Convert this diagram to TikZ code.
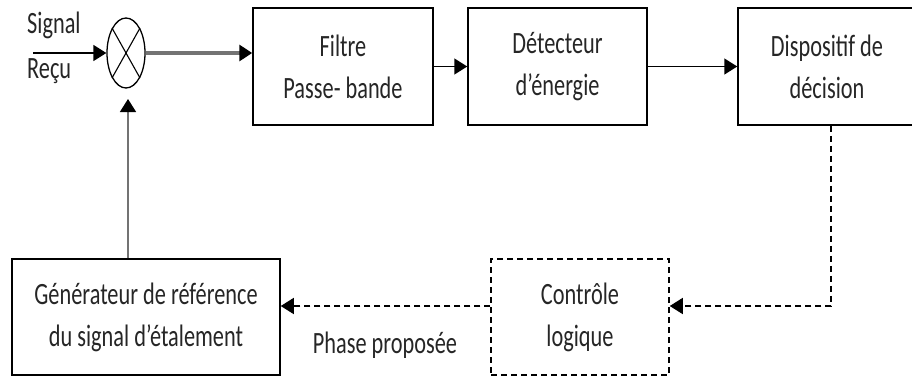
\documentclass[tikz,border=0pt]{standalone}
\usepackage{fontspec}
\setmainfont{Carlito}[FakeStretch=0.72]
\usetikzlibrary{arrows.meta,shapes.geometric}
\begin{document}
\begin{tikzpicture}[x=1pt,y=-1pt,
  txt/.style={font=\fontsize{31}{42}\selectfont,inner sep=0pt,text=black!85},
  box/.style={txt,draw,line width=1.5pt,rectangle,minimum width=180pt,minimum height=117pt,align=center},
  dbox/.style={box,dash pattern=on 6pt off 4pt},
  tip/.style={-{Triangle[length=13pt,width=16pt]}},
  arr/.style={tip,line width=1.5pt},
  darr/.style={arr,dash pattern=on 6pt off 4pt},
]
\useasboundingbox (0,0) rectangle (912,378);

% blocks
\node[ellipse,draw,line width=1.3pt,minimum width=38pt,minimum height=70pt,inner sep=0pt] (mult) at (126,53) {};
\draw[line width=1.1pt] ([shift={(-14,-25)}]mult.center) -- ([shift={(14,25)}]mult.center)
  ([shift={(14,-25)}]mult.center) -- ([shift={(-14,25)}]mult.center);

\node[box] (filtre) at (343,66.5) {Filtre\\Passe- bande};
\node[box,minimum width=179pt] (detect) at (557.5,66.5) {Détecteur\\d’énergie};
\node[box,minimum width=178pt] (dispo) at (827,66.5) {Dispositif de\\décision};
\node[box,minimum width=268pt,minimum height=116pt] (gen) at (146,317) {Générateur de référence\\du signal d’étalement};
\node[dbox,minimum width=178pt,minimum height=116pt] (ctrl) at (580,317) {Contrôle\\logique};

% labels
\node[txt,anchor=west] (lsig) at (27,25) {Signal};
\node[txt,anchor=west] (lrec) at (27,71) {Reçu};
\node[txt] (lphase) at (385,345) {Phase proposée};

% connectors
\coordinate (sig) at (33,53);
\draw[arr] (sig) -- (mult.west);
\draw[line width=3.2pt,color=black!55,-{Triangle[length=13pt,width=16pt,color=black]}] (mult.east) -- (mult.east -| filtre.west);
\draw[arr] (filtre.east) -- (detect.west);
\draw[arr] (detect.east) -- (dispo.west);
\coordinate (c1) at (831,306);
\draw[darr] (dispo.south -| c1) -- (c1) -- (c1 -| ctrl.east);
\draw[darr] (c1 -| ctrl.west) -- (c1 -| gen.east);
\coordinate (up) at (128,99);
\draw[line width=1.5pt,color=black!55,-{Triangle[length=13pt,width=16pt,color=black]}] (up |- gen.north) -- (up);
\end{tikzpicture}
\end{document}
